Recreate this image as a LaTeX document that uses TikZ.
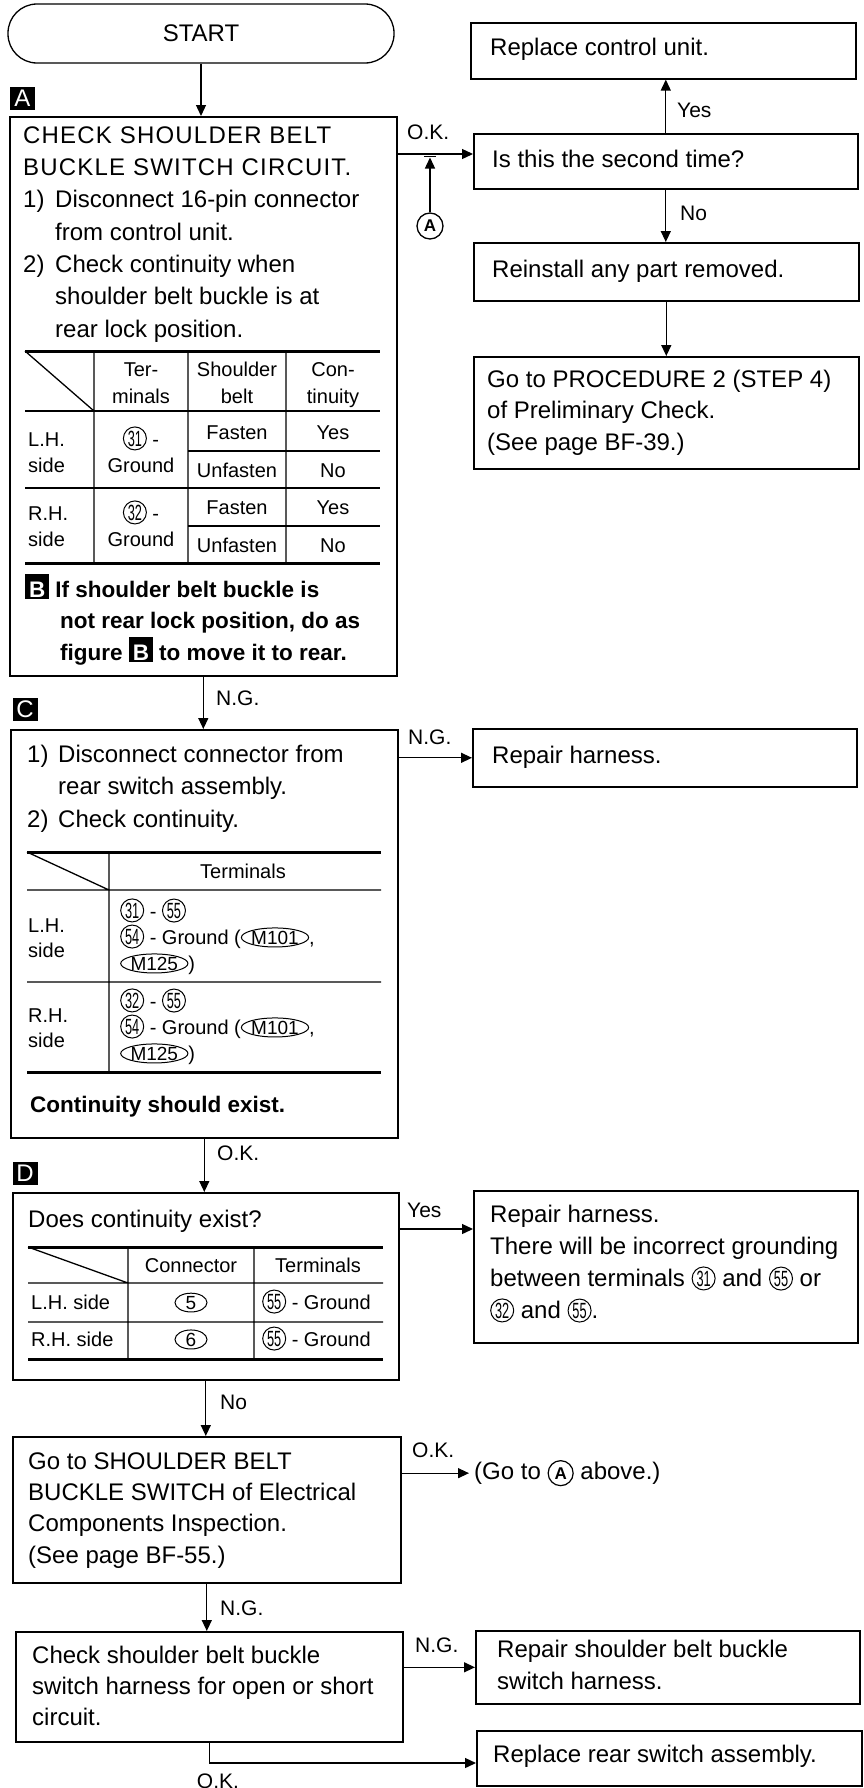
\documentclass[tikz,border=0pt]{standalone}
\usepackage{fontspec}
\setmainfont{Liberation Sans}
\usepackage{graphicx}
\usetikzlibrary{arrows.meta}
\usetikzlibrary{shapes.geometric}

% circled terminal number
\newcommand{\term}[1]{\tikz[baseline=(t.base)]\node[circle,draw,line width=1pt,inner sep=0pt,
  minimum size=23pt,font=\fontsize{22}{22}\selectfont] (t) {\scalebox{0.58}[1]{#1}};}
% connector number in an oval
\newcommand{\conn}[2][0pt]{\tikz[baseline=(c.base)]\node[ellipse,draw,line width=1pt,inner xsep=0pt,
  inner ysep=0pt,minimum width=#1,font=\fontsize{19}{19}\selectfont] (c) {#2};}
% jump mark
\newcommand{\markA}{\tikz[baseline=(m.base)]\node[circle,draw,line width=1.2pt,inner sep=0pt,
  minimum size=25pt,font=\bfseries\fontsize{17}{17}\selectfont] (m) {A};}
% white letter on black
\newcommand{\tagbox}[1]{{\fboxsep=2pt\colorbox{black}{\makebox[20pt]{\rule{0pt}{21pt}\textcolor{white}{#1}}}}}

\begin{document}
\begin{tikzpicture}[x=1pt,y=-1pt,
    box/.style={draw,line width=1.6pt,anchor=north west,inner sep=0pt},
    body/.style={anchor=base west,inner sep=0pt,align=left,font=\fontsize{24}{32}\selectfont},
    cell/.style={anchor=base,inner sep=0pt,align=center,font=\fontsize{20}{27}\selectfont},
    lbl/.style={anchor=west,inner sep=0pt,font=\fontsize{21}{21}\selectfont},
    tag/.style={fill=black,text=white,inner sep=0pt,minimum width=25pt,minimum height=23pt,
      font=\fontsize{24}{24}\selectfont},
    arr/.style={line width=1.3pt,-{Triangle[length=11pt,width=10pt]}},
    heavyrule/.style={line width=3pt},
    lightrule/.style={line width=1.3pt}]
  \useasboundingbox (0,0) rectangle (863,1788);
  % multi-line texts below sit on the baseline of their last line

  \node[draw,line width=1.3pt,rounded corners=29pt,minimum width=386pt,minimum height=59pt,
    font=\fontsize{24}{24}\selectfont] (start) at (201,33.5) {START};

  % A: buckle switch circuit
  \node[tag] (tagA) at (22.5,98) {A};
  \node[box,minimum width=387pt,minimum height=559pt] (boxA) at (9,116) {};
  \node[body,font=\fontsize{24}{32.3}\selectfont] (stepA) at (23,337)
    {{\addfontfeature{LetterSpace=5}CHECK SHOULDER BELT}\\
    {\addfontfeature{LetterSpace=5}BUCKLE SWITCH CIRCUIT.}\\
    \makebox[32pt][l]{1)}Disconnect 16-pin connector\\
    \hspace*{32pt}from control unit.\\
    \makebox[32pt][l]{2)}Check continuity when\\
    \hspace*{32pt}shoulder belt buckle is at\\
    \hspace*{32pt}rear lock position.};
  \draw[heavyrule] (25,351) -- (380,351) (25,563) -- (380,563);
  \draw[lightrule] (25,411) -- (380,411) (25,488) -- (380,488) (188,451) -- (380,451) (188,526) -- (380,526);
  \draw[lightrule] (94,351) -- (94,563) (188,351) -- (188,563) (286,351) -- (286,563) (25,351) -- (94,411);
  \node[cell] (hTerm) at (141,403) {Ter-\\minals};
  \node[cell] (hBelt) at (237,403) {Shoulder\\belt};
  \node[cell] (hCont) at (333,403) {Con-\\tinuity};
  \node[cell,anchor=base west,align=left] (sideL) at (28,472) {L.H.\\[-1pt]side};
  \node[cell] (termL) at (141,472) {\term{31} -\\[-1pt]Ground};
  \node[cell] (fastL) at (237,439) {Fasten};
  \node[cell] (yesL) at (333,439) {Yes};
  \node[cell] (unfastL) at (237,477) {Unfasten};
  \node[cell] (noL) at (333,477) {No};
  \node[cell,anchor=base west,align=left] (sideR) at (28,546) {R.H.\\[-1pt]side};
  \node[cell] (termR) at (141,546) {\term{32} -\\[-1pt]Ground};
  \node[cell] (fastR) at (237,514) {Fasten};
  \node[cell] (yesR) at (333,514) {Yes};
  \node[cell] (unfastR) at (237,552) {Unfasten};
  \node[cell] (noR) at (333,552) {No};
  \node[body,font=\bfseries\fontsize{22.5}{31.5}\selectfont] (noteB) at (25,660)
    {\tagbox{B} If shoulder belt buckle is\\
    \hspace*{35pt}not rear lock position, do as\\
    \hspace*{35pt}figure \tagbox{B} to move it to rear.};

  % right column
  \node[box,minimum width=385pt,minimum height=56pt] (replace) at (470,22) {};
  \node[body] (replaceT) at (490,55) {Replace control unit.};
  \node[box,minimum width=384pt,minimum height=55pt] (second) at (473,133) {};
  \node[body] (secondT) at (492,167) {Is this the second time?};
  \node[box,minimum width=385pt,minimum height=58pt] (reinstall) at (473,242) {};
  \node[body] (reinstallT) at (492,277) {Reinstall any part removed.};
  \node[box,minimum width=385pt,minimum height=112pt] (proc) at (473,356) {};
  \node[body,font=\fontsize{24}{31.5}\selectfont] (procT) at (487,450)
    {Go to PROCEDURE 2 (STEP 4)\\of Preliminary Check.\\(See page BF-39.)};
  \node[circle,draw,line width=1.3pt,inner sep=0pt,minimum size=26pt,
    font=\bfseries\fontsize{17}{17}\selectfont] (markA) at (430,226) {A};
  \coordinate (okA) at (396,154);

  % C: rear switch harness
  \node[tag] (tagC) at (25,709.5) {C};
  \node[box,minimum width=387pt,minimum height=408pt] (boxC) at (10,729) {};
  \node[body,font=\fontsize{24}{32.5}\selectfont] (stepC) at (27,827)
    {\makebox[31pt][l]{1)}Disconnect connector from\\
    \hspace*{31pt}rear switch assembly.\\
    \makebox[31pt][l]{2)}Check continuity.};
  \draw[heavyrule] (27,852) -- (381,852) (27,1072) -- (381,1072);
  \draw[lightrule] (27,890) -- (381,890) (27,982) -- (381,982) (109,852) -- (109,1072) (27,852) -- (109,890);
  \node[cell] (hTermC) at (243,878) {Terminals};
  \node[cell,anchor=base west,align=left] (sideLC) at (28,957) {L.H.\\[-2pt]side};
  \node[cell,anchor=base west,align=left,font=\fontsize{20}{26}\selectfont] (termLC) at (120,970)
    {\term{31} - \term{55}\\\term{54} - Ground (\conn{M101},\\\conn{M125})};
  \node[cell,anchor=base west,align=left] (sideRC) at (28,1047) {R.H.\\[-2pt]side};
  \node[cell,anchor=base west,align=left,font=\fontsize{20}{26}\selectfont] (termRC) at (120,1060)
    {\term{32} - \term{55}\\\term{54} - Ground (\conn{M101},\\\conn{M125})};
  \node[body,font=\bfseries\fontsize{22.5}{30}\selectfont] (noteC) at (30,1112) {Continuity should exist.};
  \node[box,minimum width=384pt,minimum height=58pt] (harnC) at (472,728) {};
  \node[body] (harnCT) at (492,763) {Repair harness.};

  % D: incorrect grounding
  \node[tag] (tagD) at (25,1173.5) {D};
  \node[box,minimum width=386pt,minimum height=187pt] (boxD) at (12,1192) {};
  \node[body] (stepD) at (28,1227) {Does continuity exist?};
  \draw[heavyrule] (28,1247) -- (383,1247) (28,1359) -- (383,1359);
  \draw[lightrule] (28,1283) -- (383,1283) (28,1322) -- (383,1322) (128,1247) -- (128,1359)
    (254,1247) -- (254,1359) (28,1247) -- (128,1283);
  \node[cell] (hConnD) at (191,1272) {Connector};
  \node[cell] (hTermD) at (318,1272) {Terminals};
  \node[cell,anchor=base west] (sideLD) at (31,1309) {L.H. side};
  \node[cell] (connLD) at (191,1309) {\conn[32pt]{5}};
  \node[cell,anchor=base west] (termLD) at (262,1309) {\term{55} - Ground};
  \node[cell,anchor=base west] (sideRD) at (31,1346) {R.H. side};
  \node[cell] (connRD) at (191,1346) {\conn[32pt]{6}};
  \node[cell,anchor=base west] (termRD) at (262,1346) {\term{55} - Ground};
  \node[box,minimum width=384pt,minimum height=152pt] (harnD) at (473,1190) {};
  \node[body] (harnDT) at (490,1318) {Repair harness.\\There will be incorrect grounding\\
    between terminals \term{31} and \term{55} or\\\term{32} and \term{55}.};
  \coordinate (yesD) at (398,1229);

  % electrical components
  \node[box,minimum width=388pt,minimum height=146pt] (boxE) at (12,1436) {};
  \node[body,font=\fontsize{24}{31.3}\selectfont] (stepE) at (28,1563) {Go to SHOULDER BELT\\
    BUCKLE SWITCH of Electrical\\Components Inspection.\\(See page BF-55.)};
  \node[body] (goA) at (474,1479) {(Go to \markA\ above.)};

  \node[box,minimum width=387pt,minimum height=110pt] (boxF) at (15,1631) {};
  \node[body,font=\fontsize{24}{31}\selectfont] (stepF) at (32,1725) {Check shoulder belt buckle\\
    switch harness for open or short\\circuit.};
  \node[box,minimum width=384pt,minimum height=73pt] (harnF) at (475,1630) {};
  \node[body] (harnFT) at (497,1689) {Repair shoulder belt buckle\\switch harness.};
  \node[box,minimum width=385pt,minimum height=55pt] (rear) at (476,1730) {};
  \node[body] (rearT) at (493,1762) {Replace rear switch assembly.};
  \coordinate (okF) at (208,1763);

  % connectors
  \draw[arr] (start.south) -- (start.south |- boxA.north);
  \draw[arr] (okA) -- (okA -| second.west);
  \draw[arr,shorten >=3.5pt] (markA) -- (markA |- okA);
  \draw[line width=1pt] (424,156.5) -- (436,156.5);
  \draw[arr] (second.north) -- (second.north |- replace.south);
  \draw[arr] (second.south) -- (second.south |- reinstall.north);
  \draw[arr] (reinstall.south) -- (reinstall.south |- proc.north);
  \draw[arr] (boxA.south) -- (boxA.south |- boxC.north);
  \draw[arr] (boxC.east |- harnC.west) -- (harnC.west);
  \draw[arr] (boxC.south) -- (boxC.south |- boxD.north);
  \draw[arr] (yesD) -- (yesD -| harnD.west);
  \draw[arr] (boxD.south) -- (boxD.south |- boxE.north);
  \draw[arr,shorten >=5pt] (boxE.east |- goA.west) -- (goA.west);
  \draw[arr] (boxE.south) -- (boxE.south |- boxF.north);
  \draw[arr] (boxF.east |- harnF.west) -- (harnF.west);
  \draw[arr] (boxF.south) |- (okF -| rear.west);

  \node[lbl] (okAlbl) at (407,132) {O.K.};
  \node[lbl] (yesRlbl) at (677,110) {Yes};
  \node[lbl] (noRlbl) at (680,213) {No};
  \node[lbl] (ngAlbl) at (216,698) {N.G.};
  \node[lbl] (ngClbl) at (408,737) {N.G.};
  \node[lbl] (okClbl) at (217,1153) {O.K.};
  \node[lbl] (yesDlbl) at (407,1210) {Yes};
  \node[lbl] (noDlbl) at (220,1402) {No};
  \node[lbl] (okElbl) at (412,1450) {O.K.};
  \node[lbl] (ngElbl) at (220,1608) {N.G.};
  \node[lbl] (ngFlbl) at (415,1645) {N.G.};
  \node[lbl,anchor=center] (okFlbl) at (218,1781) {O.K.};
\end{tikzpicture}
\end{document}
